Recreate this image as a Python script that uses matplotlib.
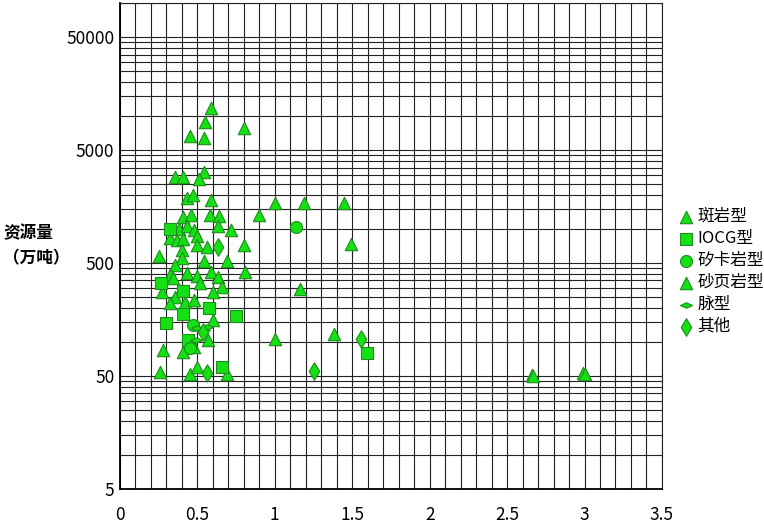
import numpy as np
import matplotlib.pyplot as plt
from matplotlib.ticker import NullFormatter

plt.rcParams['font.family'] = ['Noto Sans CJK SC', 'DejaVu Sans']

# 数据：品位（x）与资源量（万吨，y）
porphyry_x = [0.59, 0.55, 0.45, 0.54, 0.80, 0.355, 0.41, 0.54, 0.51, 0.43,
              0.47, 0.59, 0.58, 0.64, 0.63, 0.72, 0.38, 0.41, 0.46, 0.43,
              0.48, 0.50, 0.32, 0.37, 0.41, 0.50, 0.56, 0.80, 0.25, 0.40,
              0.40, 0.54, 0.69, 0.355, 0.81, 0.32, 0.34, 0.43, 0.50, 0.59,
              0.63, 0.66, 0.60, 0.52, 0.27, 0.355, 0.32, 0.42, 0.48, 0.60,
              0.57, 0.48, 0.41, 0.28, 0.26, 0.45, 0.69, 0.50, 0.90, 1.0,
              1.19, 1.45, 1.49, 1.16, 1.0, 1.38, 2.66, 2.99]
porphyry_y = [11800, 8850, 6650, 6380, 7830, 2885, 2885, 3190, 2770, 1880,
              2000, 1800, 1330, 1300, 1060, 980, 1000, 1280, 1330, 1060,
              980, 870, 830, 800, 815, 720, 690, 720, 577, 650,
              555, 520, 520, 480, 416, 392, 368, 405, 385, 416,
              376, 307, 277, 333, 277, 250, 222, 226, 236, 157,
              104, 90, 81.5, 85, 54, 52, 52, 60, 1330, 1700,
              1700, 1700, 740, 295, 106, 118, 51, 53]

iocg_x = [0.32, 0.265, 0.41, 0.575, 0.41, 0.75, 0.30, 0.44, 0.66, 1.595]
iocg_y = [1000, 333, 283, 200, 177, 170, 147, 104, 60, 80]

skarn_x = [1.14, 0.45, 0.47]
skarn_y = [1040, 89, 141]

sediment_x = [2.67, 3.0]
sediment_y = [50, 52]

vein_x = [0.50, 0.54, 0.56, 0.49]
vein_y = [133, 128, 136, 104]

other_x = [0.63, 1.25, 1.555, 0.56, 0.535]
other_y = [690, 55, 106, 53, 122]

x_ticks = [0, 0.5, 1, 1.5, 2, 2.5, 3, 3.5]
x_labels = ['0', '0.5', '1', '1.5', '2', '2.5', '3', '3.5']
y_ticks = [5, 50, 500, 5000, 50000]
y_labels = ['5', '50', '500', '5000', '50000']

fill = '#14E014'
edge = '#1E8C1E'
vein_marker = [(-1, 0), (0, 0.45), (1, 0), (0, -0.45), (-1, 0)]

fig = plt.figure(figsize=(7.64, 5.25), dpi=100)
ax = fig.add_axes([0.157, 0.0686, 0.7094, 0.9257])

ax.set_yscale('log')
ax.set_xlim(0, 3.5)
ax.set_ylim(5, 100000)

kw = dict(c=fill, edgecolors=edge, linewidths=0.8, zorder=3)
ax.scatter(porphyry_x, porphyry_y, marker='^', s=80, label='斑岩型', **kw)
ax.scatter(iocg_x, iocg_y, marker='s', s=70, label='IOCG型', **kw)
ax.scatter(skarn_x, skarn_y, marker='o', s=75, label='矽卡岩型', **kw)
ax.scatter(sediment_x, sediment_y, marker='^', s=80, label='砂页岩型', **kw)
ax.scatter(vein_x, vein_y, marker=vein_marker, s=75, label='脉型', **kw)
ax.scatter(other_x, other_y, marker='d', s=80, label='其他', **kw)

# 网格
ax.set_xticks(x_ticks, x_labels)
ax.set_xticks(np.arange(0, 3.51, 0.1), minor=True)
y_minor = [5 * k * 10 ** n for n in range(0, 5) for k in range(2, 10)]
y_minor = [v for v in y_minor if v < 100000] + [100000]
ax.set_yticks(y_ticks, y_labels)
ax.set_yticks(y_minor, minor=True)
ax.yaxis.set_minor_formatter(NullFormatter())
ax.grid(which='both', color='#222222', linewidth=0.8)
ax.set_axisbelow(True)
ax.tick_params(which='both', length=0, labelsize=12.5)
ax.tick_params(axis='x', pad=12)
ax.tick_params(axis='y', pad=4)

for side in ['top', 'right']:
    ax.spines[side].set_color('#222222')
    ax.spines[side].set_linewidth(0.8)
for side in ['left', 'bottom']:
    ax.spines[side].set_color('black')
    ax.spines[side].set_linewidth(1.3)

fig.text(0.004, 0.532, '资源量\n（万吨）', fontsize=12, fontweight='bold',
         va='center', ha='left', linespacing=1.5)

ax.legend(loc='center left', bbox_to_anchor=(0.88, 0.483), bbox_transform=fig.transFigure,
          frameon=False, fontsize=12, handlelength=0.8, handletextpad=0.3,
          labelspacing=0.3, borderaxespad=0)

fig.savefig('out.png', dpi=100)
